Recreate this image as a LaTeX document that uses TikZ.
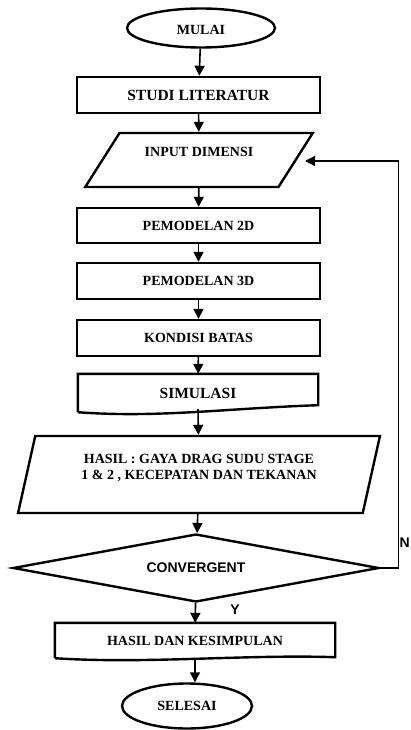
\documentclass[tikz,border=0pt]{standalone}
\usepackage{fontspec}
\setmainfont{Liberation Serif}
\newfontfamily\arialfont{Liberation Sans}
\usetikzlibrary{shapes.geometric,arrows.meta}

\begin{document}
\begin{tikzpicture}[
    x=1pt, y=-1pt,
    txt/.style={font=\fontsize{14}{16}\selectfont\bfseries},
    term/.style={
        ellipse,
        draw,
        line width=2.4pt,
        inner sep=0pt,
        txt
    },
    proc/.style={
        rectangle,
        draw,
        line width=2.4pt,
        minimum width=243pt,
        minimum height=36pt,
        inner sep=0pt,
        txt
    },
    io/.style={
        trapezium,
        trapezium stretches,
        draw,
        line width=2.4pt,
        inner sep=0pt,
        align=center,
        txt
    },
    doc/.style={rectangle, inner sep=0pt, txt},
    decision/.style={
        diamond,
        aspect=5,
        draw,
        line width=2.4pt,
        inner sep=0pt,
        minimum width=366pt,
        minimum height=68pt,
        font=\fontsize{14}{16}\selectfont\arialfont\bfseries
    },
    arrow/.style={-{Triangle[width=10pt,length=10pt]}, line width=1.6pt},
    fb/.style={-{Triangle[width=10pt,length=10pt]}, line width=1.3pt},
    lbl/.style={inner sep=0pt, font=\fontsize{14}{16}\selectfont\arialfont\bfseries}
]
\useasboundingbox[fill=white] (0,0) rectangle (410,730);

\node[term, minimum width=148pt, minimum height=39pt,
      text height=14pt, text depth=0pt] (mulai) at (201,28) {MULAI};
\node[proc, font=\fontsize{15.5}{17}\selectfont\bfseries] (studi) at (198.5,95) {STUDI LITERATUR};
\node[io, trapezium left angle=48, trapezium right angle=132,
      minimum width=228pt, minimum height=54pt,
      text height=10pt, text depth=16pt] (input) at (199,160) {INPUT DIMENSI};
\node[proc, minimum height=35pt] (pem2d) at (198.5,225.5) {PEMODELAN 2D};
\node[proc] (pem3d) at (198.5,281) {PEMODELAN 3D};
\node[proc] (kondisi) at (198.5,338) {KONDISI BATAS};
\node[doc, minimum width=240pt, minimum height=38pt,
      font=\fontsize{15.5}{17}\selectfont\bfseries] (sim) at (198,393) {SIMULASI};
\node[io, trapezium left angle=72, trapezium right angle=108,
      minimum width=362pt, minimum height=77pt,
      text height=24pt, text depth=14pt] (hasil) at (199,474.5)
      {HASIL : GAYA DRAG SUDU STAGE\\1 \& 2 , KECEPATAN DAN TEKANAN};
\node[decision] (conv) at (196,568) {CONVERGENT};
\node[doc, minimum width=280pt, minimum height=35pt] (hdk) at (195,640.5) {HASIL DAN KESIMPULAN};
\node[term, minimum width=130pt, minimum height=45pt] (selesai) at (187,706) {SELESAI};

% wavy boxes
\draw[line width=2.4pt, line join=miter] (sim.south west) -- (sim.north west) -- (sim.north east)
    -- ([yshift=7pt]sim.south east)
    .. controls ([xshift=-90pt,yshift=4pt]sim.south east) and ([xshift=80pt,yshift=-6pt]sim.south west) .. (sim.south west);
\draw[line width=2.4pt, line join=miter] (hdk.south west) -- (hdk.north west) -- (hdk.north east)
    -- ([yshift=1pt]hdk.south east)
    .. controls ([xshift=-90pt,yshift=4pt]hdk.south east) and ([xshift=90pt,yshift=-6pt]hdk.south west) .. (hdk.south west);

% main flow
\draw[arrow] (mulai) -- (studi);
\draw[arrow] (studi) -- (input);
\draw[arrow] (input) -- (pem2d);
\draw[arrow] (pem2d) -- (pem3d);
\draw[arrow] (pem3d) -- (kondisi);
\draw[arrow] (kondisi) -- (sim);
\draw[arrow] ([yshift=3pt]sim.south) -- (hasil);
\draw[arrow] (hasil) -- (conv);
\draw[arrow] (conv) -- (hdk);
\draw[arrow] (hdk.south) -- (hdk.south |- selesai.north);

% feedback
\coordinate (fbin) at (305,161);
\draw[fb] (conv.east) -- ++(18,0) |- (fbin);

\node[lbl] (yes) at (235,610) {Y};
\node[lbl, anchor=west] (no) at (399.5,543) {N};

\end{tikzpicture}
\end{document}
